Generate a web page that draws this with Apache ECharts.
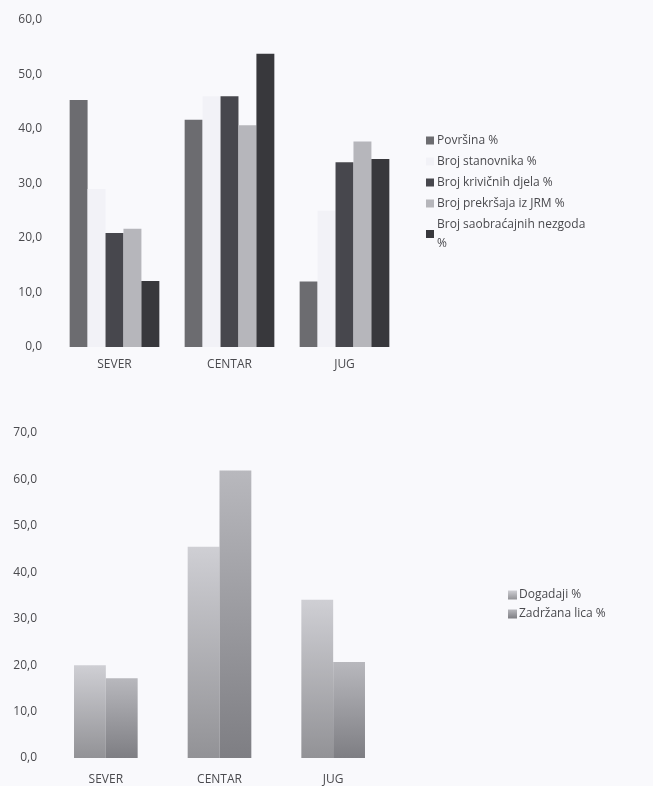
<!DOCTYPE html>
<html>
<head>
<meta charset="utf-8">
<script src="https://cdn.jsdelivr.net/npm/echarts@6/dist/echarts.min.js"></script>
<style>
  html, body { margin: 0; padding: 0; background: #f9f9fc; }
  #chart { width: 653px; height: 786px; }
</style>
</head>
<body>
<div id="chart"></div>
<script>
// Regions (shared by both charts)
const regions = ['SEVER', 'CENTAR', 'JUG'];

// Upper chart: share of each indicator per region (%)
const povrsina = [45.3, 41.7, 12.0];
const stanovnika = [29.0, 46.0, 25.0];
const krivicnaDjela = [20.9, 46.0, 33.9];
const prekrsajiJRM = [21.7, 40.7, 37.7];
const saobracajneNezgode = [12.1, 53.8, 34.5];

// Lower chart: events and detained persons per region (%)
const dogadaji = [20.0, 45.5, 34.1];
const zadrzanaLica = [17.2, 61.9, 20.7];

const fontFamily = '"Open Sans", "Noto Sans", sans-serif';
const labelColor = '#4a4a4e';

function fmt(v) { return v.toFixed(1).replace('.', ','); }

function grad(top, bottom) {
  return new echarts.graphic.LinearGradient(0, 0, 0, 1, [
    { offset: 0, color: top }, { offset: 1, color: bottom }
  ]);
}

const chart = echarts.init(document.getElementById('chart'));

const yAxisBase = {
  type: 'value', min: 0,
  axisLine: { show: false }, axisTick: { show: false },
  splitLine: { show: false },
  axisLabel: { color: labelColor, fontSize: 12, fontFamily, formatter: fmt }
};
const xAxisBase = {
  type: 'category', data: regions,
  axisLine: { show: false }, axisTick: { show: false },
  axisLabel: { color: labelColor, fontSize: 12, fontFamily }
};

chart.setOption({
  backgroundColor: '#f9f9fc',
  animation: false,
  grid: [
    { left: 57, top: 20, width: 345, height: 327 },
    { left: 49, top: 433, width: 341, height: 325 }
  ],
  xAxis: [
    Object.assign({}, xAxisBase, { gridIndex: 0, axisLabel: Object.assign({}, xAxisBase.axisLabel, { margin: 12 }) }),
    Object.assign({}, xAxisBase, { gridIndex: 1, axisLabel: Object.assign({}, xAxisBase.axisLabel, { margin: 16 }) })
  ],
  yAxis: [
    Object.assign({}, yAxisBase, { gridIndex: 0, max: 60, interval: 10, axisLabel: Object.assign({}, yAxisBase.axisLabel, { margin: 15 }) }),
    Object.assign({}, yAxisBase, { gridIndex: 1, max: 70, interval: 10, axisLabel: Object.assign({}, yAxisBase.axisLabel, { margin: 12 }) })
  ],
  legend: [
    {
      data: ['Površina %', 'Broj stanovnika %', 'Broj krivičnih djela %', 'Broj prekršaja iz JRM %', 'Broj saobraćajnih nezgoda %'],
      orient: 'vertical', left: 421, top: 126,
      itemWidth: 8, itemHeight: 8, itemGap: 2, icon: 'rect',
      textStyle: { color: labelColor, fontSize: 12, fontFamily, lineHeight: 19, padding: [0, 0, 0, -2] },
      formatter: n => n === 'Broj saobraćajnih nezgoda %' ? 'Broj saobraćajnih nezgoda\n%' : n
    },
    {
      data: ['Dogadaji %', 'Zadržana lica %'],
      orient: 'vertical', left: 503, top: 584,
      itemWidth: 9, itemHeight: 9, itemGap: 7, icon: 'rect',
      textStyle: { color: labelColor, fontSize: 12, fontFamily, padding: [0, 0, 0, -3] }
    }
  ],
  series: [
    { name: 'Površina %', type: 'bar', xAxisIndex: 0, yAxisIndex: 0, data: povrsina,
      barGap: '0%', barCategoryGap: '22%', itemStyle: { color: '#6c6c70' } },
    { name: 'Broj stanovnika %', type: 'bar', xAxisIndex: 0, yAxisIndex: 0, data: stanovnika,
      itemStyle: { color: '#f2f2f7' } },
    { name: 'Broj krivičnih djela %', type: 'bar', xAxisIndex: 0, yAxisIndex: 0, data: krivicnaDjela,
      itemStyle: { color: '#47474d' } },
    { name: 'Broj prekršaja iz JRM %', type: 'bar', xAxisIndex: 0, yAxisIndex: 0, data: prekrsajiJRM,
      itemStyle: { color: '#b6b6bb' } },
    { name: 'Broj saobraćajnih nezgoda %', type: 'bar', xAxisIndex: 0, yAxisIndex: 0, data: saobracajneNezgode,
      itemStyle: { color: '#38383c' } },
    { name: 'Dogadaji %', type: 'bar', xAxisIndex: 1, yAxisIndex: 1, data: dogadaji,
      barGap: '0%', barCategoryGap: '44%', itemStyle: { color: grad('#cfcfd4', '#929296') } },
    { name: 'Zadržana lica %', type: 'bar', xAxisIndex: 1, yAxisIndex: 1, data: zadrzanaLica,
      itemStyle: { color: grad('#b8b8bd', '#7e7e83') } }
  ]
});
</script>
</body>
</html>
